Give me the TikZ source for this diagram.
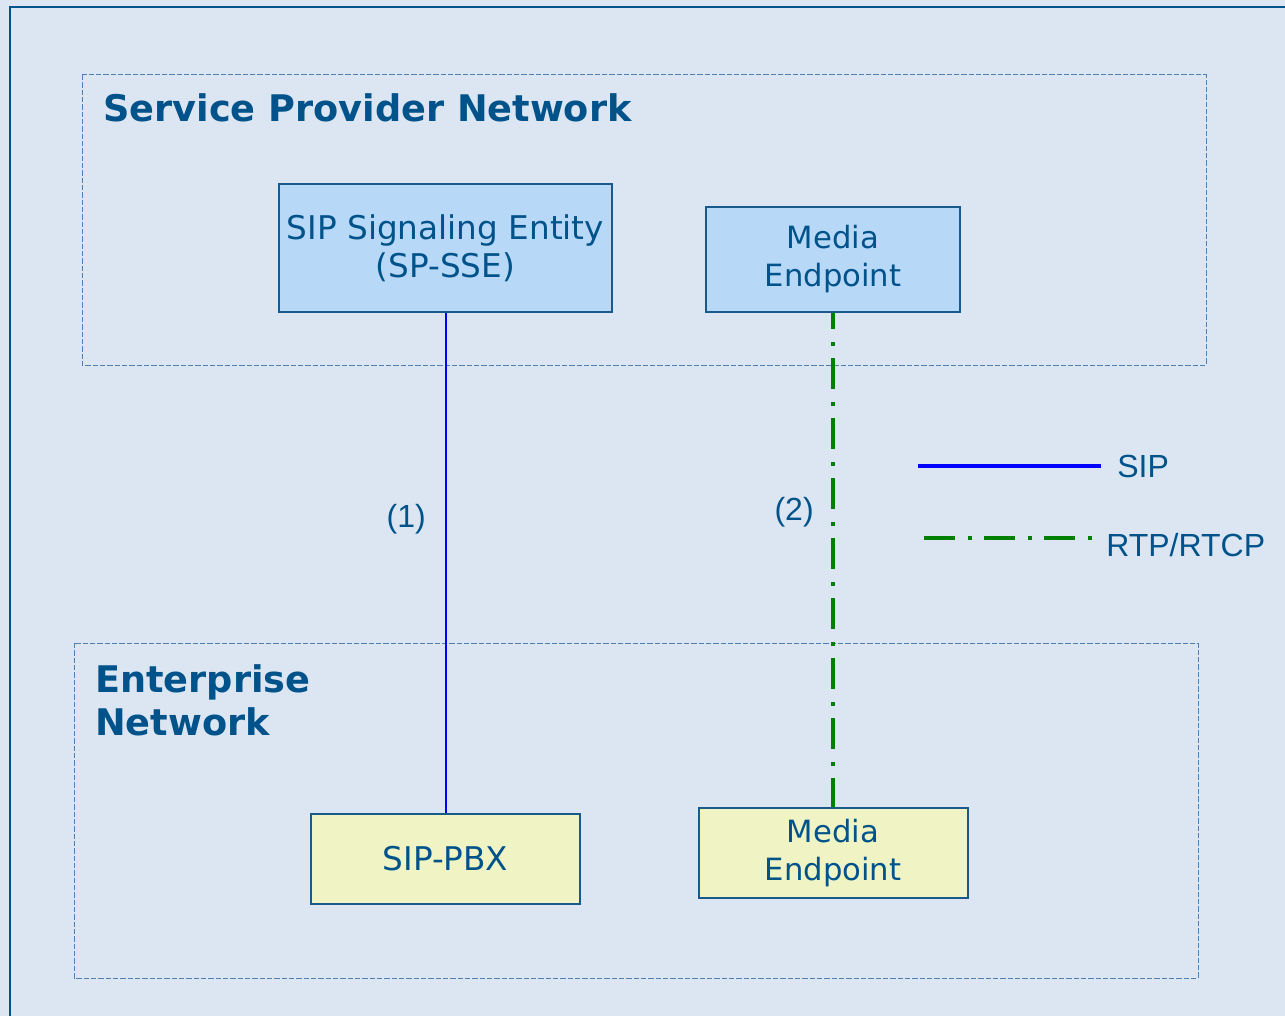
\documentclass[tikz,border=0pt]{standalone}
\usepackage{fontspec}
\setmainfont{DejaVu Sans}
\newfontfamily\legendfont{Liberation Sans}
\usetikzlibrary{positioning}
\usepackage{xcolor}
\definecolor{bgblue}{RGB}{220,230,242}
\definecolor{frameblue}{RGB}{0,84,140}
\definecolor{txtblue}{RGB}{0,83,138}
\definecolor{zoneline}{RGB}{78,128,178}
\definecolor{boxline}{RGB}{24,90,140}
\definecolor{spfill}{RGB}{184,216,248}
\definecolor{entfill}{RGB}{240,244,196}
\definecolor{sipblue}{RGB}{0,0,255}
\definecolor{rtpgreen}{RGB}{0,128,0}

\begin{document}
\begin{tikzpicture}[x=0.75pt,y=0.75pt,yscale=-1,xscale=1,
  zone/.style={draw=zoneline, line width=0.75pt, dash pattern=on 4pt off 1.5pt},
  zonetitle/.style={text=txtblue, inner sep=0pt, font=\fontsize{27.5}{32.25}\selectfont\bfseries},
  spbox/.style={draw=boxline, fill=spfill, line width=1.5pt, text=txtblue, align=center, inner sep=0pt},
  entbox/.style={draw=boxline, fill=entfill, line width=1.5pt, text=txtblue, align=center, inner sep=0pt},
  siplink/.style={draw=sipblue, line width=1.5pt},
  rtplink/.style={draw=rtpgreen, line width=3pt, dash pattern=on 23.25pt off 9.75pt on 3pt off 9pt},
  legendtext/.style={text=txtblue, inner sep=0pt, font=\legendfont\fontsize{24}{28}\selectfont}]
\useasboundingbox (0,0) rectangle (1285,1016);
\clip (0,0) rectangle (1285,1016);
\fill[bgblue] (0,0) rectangle (1285,1016);
% outer frame, runs off the right and bottom edge
\draw[frameblue, line width=1.6pt] (10,7) rectangle (1300,1030);

% network zones
\draw[zone] (82,75) rectangle (1206,365);
\draw[zone] (74,643) rectangle (1198,978);
\node[zonetitle, anchor=base west] (sptitle) at (103,122) {Service Provider Network};
\node[zonetitle, anchor=base west, align=left] (enttitle) at (95,735) {Enterprise\\Network};

% service provider side
\node[spbox, minimum width=249.75pt, minimum height=96pt, font=\fontsize{24.5}{28.5}\selectfont] (sse) at (445.5,248) {SIP Signaling Entity\\(SP-SSE)};
\node[spbox, minimum width=190.5pt, minimum height=78.75pt, font=\fontsize{23}{28.5}\selectfont] (metop) at (833,259.5) {Media\\Endpoint};

% enterprise side
\node[entbox, minimum width=201.75pt, minimum height=67.5pt, font=\fontsize{24.5}{28.5}\selectfont] (pbx) at (445.5,859) {SIP-PBX};
\node[entbox, minimum width=201.75pt, minimum height=67.5pt, font=\fontsize{23}{28.5}\selectfont] (mebot) at (833,853) {Media\\Endpoint};

% links
\draw[siplink] (sse) -- node[pos=0.412, left=14pt, legendtext] (lblone) {(1)} (pbx);
\draw[rtplink, dash phase=11.25pt] (metop) -- node[pos=0.403, left=13pt, legendtext] (lbltwo) {(2)} (mebot);

% legend
\coordinate (sipA) at (918,466);
\coordinate (sipB) at (1101,466);
\coordinate (rtpA) at (924,538);
\coordinate (rtpB) at (1092,538);
\draw[siplink, line width=2.6pt] (sipA) -- (sipB);
\draw[rtplink] (rtpA) -- (rtpB);
\node[legendtext, anchor=base west] (siptxt) at (1117,477) {SIP};
\node[legendtext, anchor=base west] (rtptxt) at (1106,556) {RTP/RTCP};

\end{tikzpicture}
\end{document}
